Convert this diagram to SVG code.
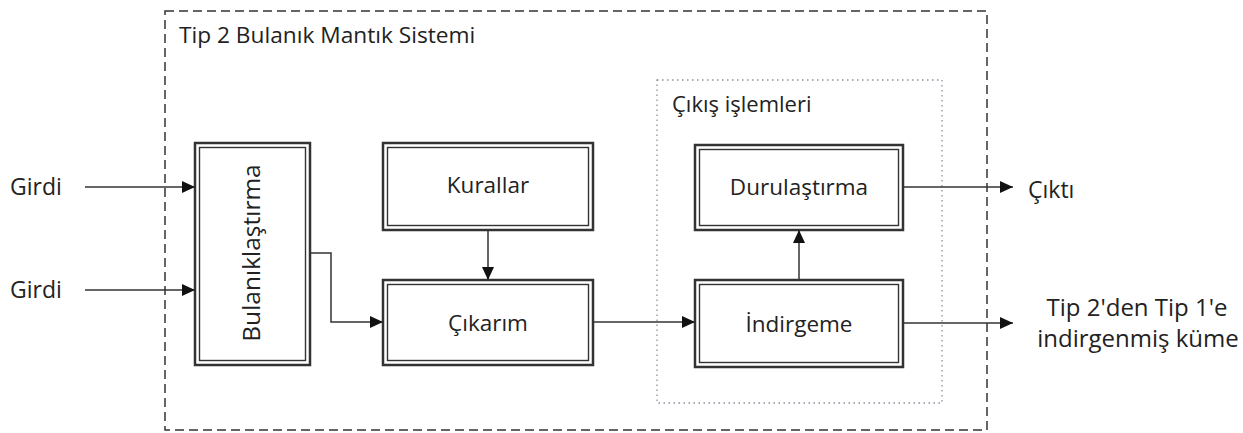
<svg xmlns="http://www.w3.org/2000/svg" width="1243" height="433" viewBox="0 0 1243 433">
<style>
  text { font-family: "Open Sans", "Liberation Sans", sans-serif; fill: #222; font-size: 22px; }
  .c { text-anchor: middle; }
  .outer { fill: #fff; stroke: #333; stroke-width: 2.5; }
  .inner { fill: none; stroke: #333; stroke-width: 1.4; }
  .conn { fill: none; stroke: #333; stroke-width: 1.5; }
</style>
<defs>
  <marker id="arr" markerWidth="14" markerHeight="12" refX="13" refY="6" orient="auto" markerUnits="userSpaceOnUse">
    <path d="M0,0 L13,6 L0,12 Z" fill="#111"/>
  </marker>
</defs>
<rect width="1243" height="433" fill="#fff"/>
<g id="system-frame">
  <rect x="165" y="11" width="822" height="419" fill="none" stroke="#333" stroke-width="1.5" stroke-dasharray="9,5"/>
  <text x="179" y="43" style="font-size:22.7px">Tip 2 Bulanık Mantık Sistemi</text>
</g>
<g id="output-frame">
  <rect x="657" y="80" width="285" height="323" fill="none" stroke="#8890a0" stroke-width="1.3" stroke-dasharray="1.5,3.5"/>
  <text x="672" y="112">Çıkış işlemleri</text>
</g>
<g id="bulaniklastirma">
  <rect class="outer" x="195" y="143" width="115" height="222"/>
  <rect class="inner" x="199.5" y="147.5" width="106" height="213"/>
  <text class="c" transform="translate(252,253) rotate(-90)" y="8" style="font-size:24.5px">Bulanıklaştırma</text>
</g>
<g id="kurallar">
  <rect class="outer" x="383" y="143" width="210" height="87"/>
  <rect class="inner" x="387.5" y="147.5" width="201" height="78"/>
  <text class="c" x="488" y="193" style="font-size:22.5px">Kurallar</text>
</g>
<g id="cikarim">
  <rect class="outer" x="383" y="280" width="210" height="85"/>
  <rect class="inner" x="387.5" y="284.5" width="201" height="76"/>
  <text class="c" x="488" y="331" style="font-size:22.5px">Çıkarım</text>
</g>
<g id="durulastirma">
  <rect class="outer" x="695" y="145" width="208" height="85"/>
  <rect class="inner" x="699.5" y="149.5" width="199" height="76"/>
  <text class="c" x="799" y="195" style="font-size:22.5px">Durulaştırma</text>
</g>
<g id="indirgeme">
  <rect class="outer" x="695" y="280" width="208" height="87"/>
  <rect class="inner" x="699.5" y="284.5" width="199" height="78"/>
  <text class="c" x="799" y="332" style="font-size:22.5px">İndirgeme</text>
</g>
<g id="labels">
  <text x="10" y="195" style="font-size:23px">Girdi</text>
  <text x="10" y="298" style="font-size:23px">Girdi</text>
  <text x="1028" y="198" style="font-size:23px">Çıktı</text>
  <text class="c" x="1137" y="316" style="font-size:24px">Tip 2'den Tip 1'e</text>
  <text class="c" x="1138" y="347" style="font-size:24px">indirgenmiş küme</text>
</g>
<g id="connectors">
  <line class="conn" x1="85" y1="187" x2="195" y2="187" marker-end="url(#arr)"/>
  <line class="conn" x1="85" y1="290" x2="195" y2="290" marker-end="url(#arr)"/>
  <polyline class="conn" points="310,253 331,253 331,322 383,322" marker-end="url(#arr)"/>
  <line class="conn" x1="488" y1="230" x2="488" y2="280" marker-end="url(#arr)"/>
  <line class="conn" x1="593" y1="322" x2="695" y2="322" marker-end="url(#arr)"/>
  <line class="conn" x1="799" y1="280" x2="799" y2="230" marker-end="url(#arr)"/>
  <line class="conn" x1="903" y1="187" x2="1013" y2="187" marker-end="url(#arr)"/>
  <line class="conn" x1="903" y1="323" x2="1013" y2="323" marker-end="url(#arr)"/>
</g>
</svg>
